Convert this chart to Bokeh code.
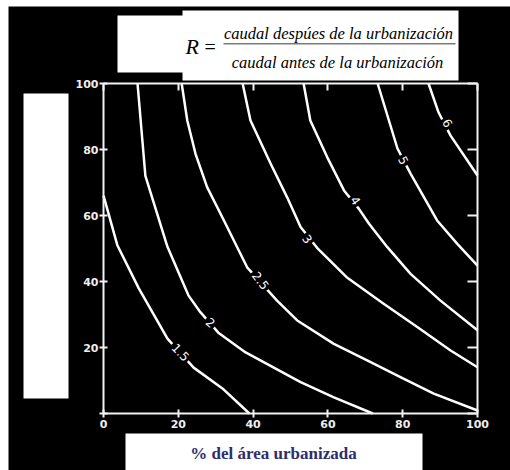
from bokeh.plotting import figure
from bokeh.models import Range1d, FixedTicker, LinearAxis, Label, BoxAnnotation, ColumnDataSource
from bokeh.core.properties import value
from bokeh.embed import file_html
from bokeh.resources import INLINE

# ---------------- data ----------------
ticks = [0, 20, 40, 60, 80, 100]

c15_x = [0, 3.7, 9.4, 17.1, 24.1, 31.8, 39]
c15_y = [66, 51, 38, 22.7, 13.9, 7.6, 0]

c2_x = [9.1, 11.2, 17.1, 22.7, 25.9, 30.7, 38, 52.7, 61.6, 72]
c2_y = [100, 72, 50.5, 35.8, 30.7, 24.5, 18.5, 9.5, 4.9, 0]

c25_x = [20.9, 22.4, 24.6, 27.7, 32.2, 38.4, 46.4, 51.8, 61.6, 70.5, 79.4, 88.3, 100]
c25_y = [100, 88.8, 78.7, 68.6, 58.5, 44.3, 34.2, 28.2, 21.1, 16.1, 11, 6, 0.9]

c3_x = [37.2, 39.3, 44.7, 49.1, 52.7, 57.1, 65, 75, 83.9, 92.8, 100]
c3_y = [100, 88.8, 75.7, 65.5, 56.5, 50.2, 41.3, 33.2, 26.2, 19.1, 14]

c4_x = [53.5, 55.3, 59.8, 64.3, 68.3, 71, 75.9, 82.1, 90.1, 100]
c4_y = [100, 88.8, 77.7, 67.6, 62, 57.5, 50.4, 42.3, 34.2, 25.2]

c5_x = [73.3, 78.6, 82.1, 89.2, 94.6, 100]
c5_y = [100, 80.3, 72.7, 58.5, 51.4, 44.8]

c6_x = [86.9, 89.6, 92.8, 100]
c6_y = [100, 91.2, 84.2, 72.1]

levels = ["1.5", "2", "2.5", "3", "4", "5", "6"]
level_x = [20.6, 28.6, 42.0, 54.5, 67.4, 80.2, 92.0]
level_y = [18.6, 27.6, 40.3, 52.9, 64.5, 76.7, 88.0]

formula_lhs = "R"
formula_num = "caudal despúes de la urbanización"
formula_den = "caudal antes de la urbanización"
x_title = "% del área urbanizada"

# ---------------- layout (page pixels) ----------------
W, H = 510, 470
BL, BT = 8, 6                 # white page edge left/top
X0, X1 = 103, 477             # pixel of x=0 / x=100
Y0, Y1 = 413, 83              # pixel of y=0 / y=100
sx = (X1 - X0) / 100.0
sy = (Y0 - Y1) / 100.0
def dx(px):
    return (px - X0) / sx
def dy(py):
    return (Y0 - py) / sy

p = figure(width=W, height=H, output_backend="svg", toolbar_location=None,
           x_range=Range1d(dx(BL), dx(W)), y_range=Range1d(dy(H), dy(BT)),
           min_border_left=BL, min_border_top=BT,
           min_border_right=0, min_border_bottom=0)
p.background_fill_color = "black"
p.border_fill_color = "white"
p.outline_line_color = None
p.xgrid.visible = False
p.ygrid.visible = False

def style(ax):
    ax.ticker = FixedTicker(ticks=ticks)
    ax.bounds = (0, 100)
    ax.axis_line_color = "#f2f2f2"
    ax.axis_line_width = 2
    ax.major_tick_line_color = "#f2f2f2"
    ax.major_tick_line_width = 2
    ax.minor_tick_line_color = None
    ax.major_label_text_color = "#eeeeee"
    ax.major_label_text_font = "DejaVu Sans"
    ax.major_label_text_font_style = "bold"
    ax.major_label_text_font_size = "11px"

xa = p.xaxis[0]
ya = p.yaxis[0]
style(xa); style(ya)
xa.fixed_location = 0
ya.fixed_location = 0
for ax in (xa, ya):
    ax.major_tick_in = 4
    ax.major_tick_out = 4
xa.major_label_standoff = 2
ya.major_label_standoff = 1
ya.major_label_overrides = {0: ""}

for loc in ("right", "above"):
    ax = LinearAxis()
    style(ax)
    ax.fixed_location = 100
    ax.major_tick_in = 10 if loc == "right" else 7
    ax.major_tick_out = 0
    ax.major_label_overrides = {t: "" for t in ticks}
    ax.major_label_standoff = 0
    p.add_layout(ax, loc)

# contour lines
for xs, ys in [(c15_x, c15_y), (c2_x, c2_y), (c25_x, c25_y), (c3_x, c3_y),
               (c4_x, c4_y), (c5_x, c5_y), (c6_x, c6_y)]:
    p.line(xs, ys, line_color="white", line_width=2.5, line_join="round")

angles = [-0.80, -0.70, -0.92, -0.95, -1.0, -1.1, -1.05]
src = ColumnDataSource(dict(x=level_x, y=level_y, t=levels, a=angles))
p.text(x="x", y="y", text="t", angle="a", source=src, text_color="white",
       text_font=value("DejaVu Sans"), text_font_size="12px",
       text_align="center", text_baseline="middle",
       background_fill_color="black", padding=2)

# white boxes
def box(l, r, t, b, color="white"):
    p.add_layout(BoxAnnotation(left=dx(l), right=dx(r), top=dy(t), bottom=dy(b),
                               fill_color=color, fill_alpha=1, line_color=None,
                               level="overlay"))
box(23, 68, 93, 398)                 # covered y-axis title
box(117, 186, 15, 72)                # formula box (left part)
box(182, 458, 10, 80)                # formula box (right part)
box(125, 422, 433, 480)              # x-axis title box
box(223, 455, 42.5, 44, "#7a7a7a")   # fraction bar

def label(px, py, text, size, style="normal", color="black", align="center", font="Liberation Serif"):
    p.add_layout(Label(x=dx(px), y=dy(py), text=text, text_font=font,
                       text_font_style=style, text_font_size=size, text_color=color,
                       text_baseline="middle", text_align=align, level="overlay"))

label(185, 46, formula_lhs, "22px", "italic", align="left")
label(204, 46, "=", "20px", align="left")
label(338, 33, formula_num, "16.5px", "italic")
label(337, 62, formula_den, "16.5px", "italic")
label(273, 453, x_title, "17px", "bold", color="#2e2e6e")

open("out.html", "w").write(file_html(p, INLINE))
